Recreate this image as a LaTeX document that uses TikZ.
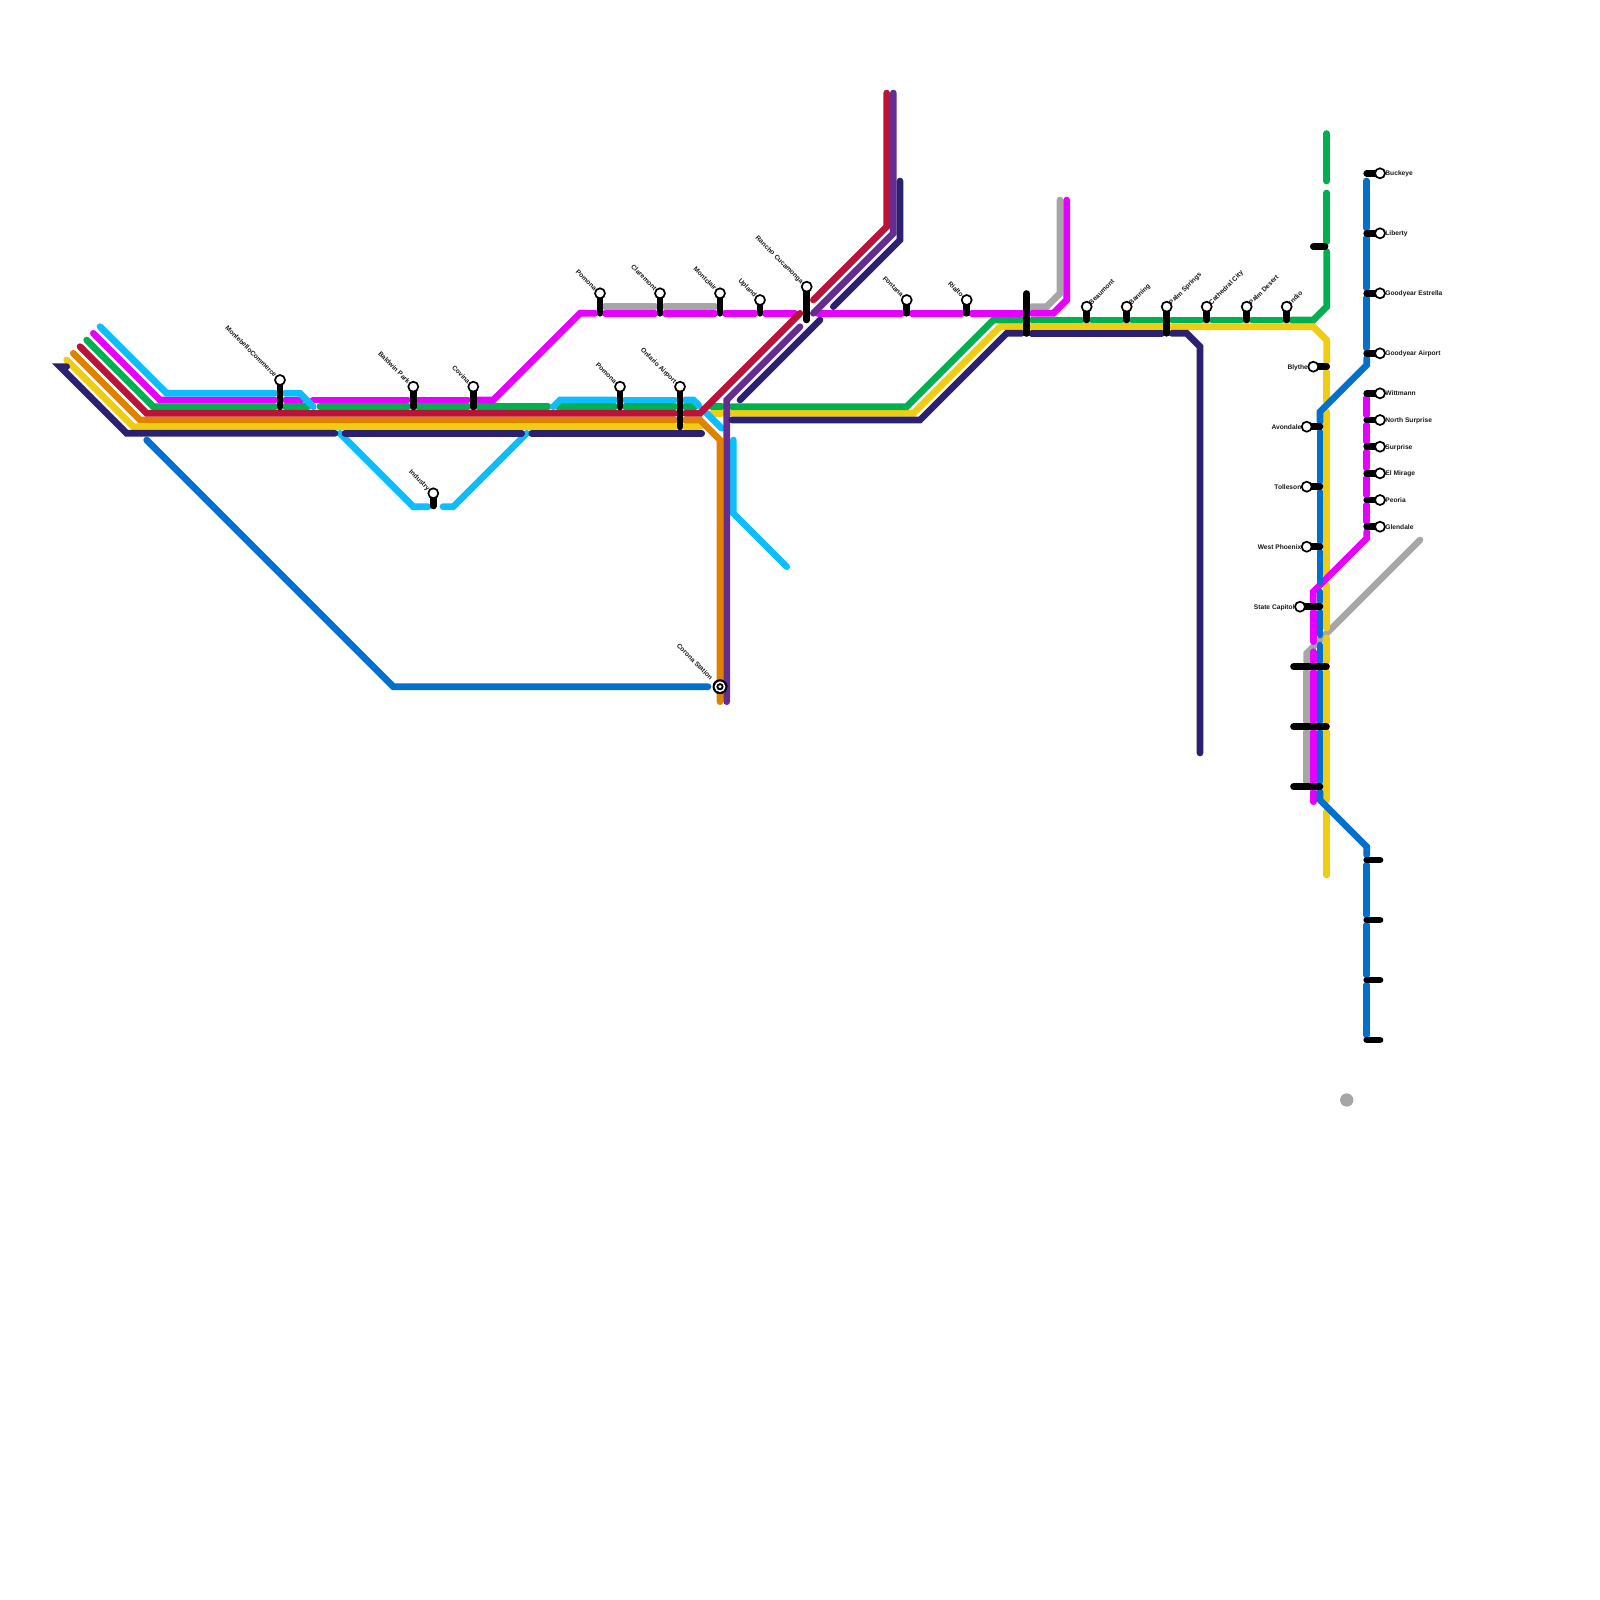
\documentclass[tikz,border=0pt]{standalone}
\usepackage{fontspec}
\setmainfont{Liberation Sans}
\definecolor{cCyan}{HTML}{0ABEFF}
\definecolor{cMag}{HTML}{E600FF}
\definecolor{cGreen}{HTML}{00B050}
\definecolor{cRed}{HTML}{BB1238}
\definecolor{cOrange}{HTML}{DE8200}
\definecolor{cYellow}{HTML}{F0CD10}
\definecolor{cNavy}{HTML}{2C2070}
\definecolor{cBlue}{HTML}{0070CC}
\definecolor{cPurple}{HTML}{662D91}
\definecolor{cGray}{HTML}{A6A6A6}
\tikzset{
  route/.style={line width=3.33pt,line cap=round,line join=miter,miter limit=4},
  cyanline/.style={route,cCyan}, magline/.style={route,cMag}, greenline/.style={route,cGreen},
  redline/.style={route,cRed}, orangeline/.style={route,cOrange}, yellowline/.style={route,cYellow},
  navyline/.style={route,cNavy}, blueline/.style={route,cBlue}, purpleline/.style={route,cPurple},
  grayline/.style={route,cGray},
  stationbar/.style={line width=3.33pt,line cap=round,black},
  stationdot/.style={circle,draw=black,fill=white,line width=0.85pt,minimum size=2.5pt*2,inner sep=0pt},
  stationlabel/.style={font=\bfseries\fontsize{3.33pt}{4pt}\selectfont,inner sep=0pt,text height=2.4pt,text depth=0pt,text=black!90}
}
% vertical station: name, x, top y, bottom y
\newcommand{\vstn}[4]{\draw[stationbar] (#2,#3) -- (#2,#4); \node[stationdot] (#1) at (#2,#3) {};}
% horizontal station: name, circle x, y, other end x
\newcommand{\hstn}[4]{\draw[stationbar] (#2,#3) -- (#4,#3); \node[stationdot] (#1) at (#2,#3) {};}
\newcommand{\ulabel}[4]{\node[stationlabel,anchor=east,rotate=-45] (#1) at (#2-4,#3-4) {#4};}
\newcommand{\urlabel}[4]{\node[stationlabel,anchor=west,rotate=45] (#1) at (#2+3,#3-3) {#4};}
\newcommand{\rlabel}[4]{\node[stationlabel,anchor=west] (#1) at (#2+5,#3) {#4};}
\newcommand{\llabel}[4]{\node[stationlabel,anchor=east] (#1) at (#2-5,#3) {#4};}
\begin{document}
\begin{tikzpicture}[x=0.5pt,y=-0.5pt]
\useasboundingbox (0,0) rectangle (1600,1600);
\fill[white] (0,0) rectangle (1600,1600);

% grey
\draw[grayline] (605,306.7) -- (655,306.7);
\draw[grayline] (665,306.7) -- (715,306.7);
\draw[grayline] (1031.7,306.7) -- (1046.7,306.7) -- (1060,293.3) -- (1060,200);
\draw[grayline] (1420,540) -- (1306.7,653.3) -- (1306.7,661.7);
\draw[grayline] (1306.7,671.7) -- (1306.7,721.7);
\draw[grayline] (1306.7,731.7) -- (1306.7,781.7);
\fill[cGray] (1346.7,1100) circle[radius=6.67];

% yellow
\draw[yellowline] (66.7,360) -- (133.3,426.7) -- (675,426.7);
\draw[yellowline] (685,426.7) -- (700,426.7);
\draw[yellowline] (711.7,413.3) -- (721.7,413.3);
\draw[yellowline] (731.7,413.3) -- (913.3,413.3) -- (1000,326.7) -- (1021.7,326.7);
\draw[yellowline] (1031.7,326.7) -- (1161.7,326.7);
\draw[yellowline] (1171.7,326.7) -- (1313.3,326.7) -- (1326.7,340) -- (1326.7,361.7);
\draw[yellowline] (1326.7,371.7) -- (1326.7,401.7);
\draw[yellowline] (1326.7,411.7) -- (1326.7,575);
\draw[yellowline] (1326.7,585) -- (1326.7,628);
\draw[yellowline] (1326.7,638) -- (1326.7,661.7);
\draw[yellowline] (1326.7,671.7) -- (1326.7,721.7);
\draw[yellowline] (1326.7,731.7) -- (1326.7,800);
\draw[yellowline] (1326.7,811.7) -- (1326.7,875);

% green
\draw[greenline] (86.7,340) -- (153.3,406.7) -- (275,406.7);
\draw[greenline] (285,406.7) -- (308,406.7);
\draw[greenline] (320,406.7) -- (408,406.7);
\draw[greenline] (418,406.7) -- (468,406.7);
\draw[greenline] (478,406.7) -- (548,406.7);
\draw[greenline] (558,406.7) -- (615,406.7);
\draw[greenline] (625,406.7) -- (675,406.7);
\draw[greenline] (685,406.7) -- (695,406.7);
\draw[greenline] (711.7,406.7) -- (721.7,406.7);
\draw[greenline] (731.7,406.7) -- (906.7,406.7) -- (993.3,320) -- (1021.7,320);
\draw[greenline] (1031.7,320) -- (1081.7,320);
\draw[greenline] (1091.7,320) -- (1121.7,320);
\draw[greenline] (1131.7,320) -- (1161.7,320);
\draw[greenline] (1171.7,320) -- (1201.7,320);
\draw[greenline] (1211.7,320) -- (1241.7,320);
\draw[greenline] (1251.7,320) -- (1281.7,320);
\draw[greenline] (1291.7,320) -- (1313.3,320) -- (1326.7,306.7) -- (1326.7,251.7);
\draw[greenline] (1326.7,241.7) -- (1326.7,193);
\draw[greenline] (1326.7,181) -- (1326.7,133.5);

% magenta
\draw[magline] (93.3,333.3) -- (160,400) -- (275,400);
\draw[magline] (285,400) -- (302,400);
\draw[magline] (313,400) -- (408,400);
\draw[magline] (418,400) -- (468,400);
\draw[magline] (478,400) -- (493.3,400) -- (580,313.3) -- (595,313.3);
\draw[magline] (605,313.3) -- (655,313.3);
\draw[magline] (665,313.3) -- (715,313.3);
\draw[magline] (725,313.3) -- (755,313.3);
\draw[magline] (765,313.3) -- (795,313.3);
\draw[magline] (818,313.3) -- (901.7,313.3);
\draw[magline] (911.7,313.3) -- (961.7,313.3);
\draw[magline] (971.7,313.3) -- (1021.7,313.3);
\draw[magline] (1031.7,313.3) -- (1053.3,313.3) -- (1066.7,300) -- (1066.7,200);
\draw[magline] (1366.7,398) -- (1366.7,415);
\draw[magline] (1366.7,425) -- (1366.7,441.7);
\draw[magline] (1366.7,451.7) -- (1366.7,468);
\draw[magline] (1366.7,478) -- (1366.7,495);
\draw[magline] (1366.7,505) -- (1366.7,521.7);
\draw[magline] (1366.7,531.7) -- (1366.7,538.3) -- (1313.3,591.7) -- (1313.3,601.7);
\draw[magline] (1313.3,611.7) -- (1313.3,641.7);
\draw[magline] (1313.3,651.7) -- (1313.3,661.7);
\draw[magline] (1313.3,671.7) -- (1313.3,721.7);
\draw[magline] (1313.3,731.7) -- (1313.3,781.7);
\draw[magline] (1313.3,791.7) -- (1313.3,801.7);

% cyan
\draw[cyanline] (100,326.7) -- (166.7,393.3) -- (275,393.3);
\draw[cyanline] (285,393.3) -- (300,393.3) -- (313.3,406.7);
\draw[cyanline] (340,433.3) -- (413.3,506.7) -- (428,506.7);
\draw[cyanline] (443,506.7) -- (453.3,506.7) -- (526.7,433.3);
\draw[cyanline] (553.3,406.7) -- (560,400) -- (615,400);
\draw[cyanline] (625,400) -- (675,400);
\draw[cyanline] (685,400) -- (693.3,400) -- (699,405.7);
\draw[cyanline] (706.7,413.3) -- (721.7,428.3);
\draw[cyanline] (733.3,440) -- (733.3,513.3) -- (786.7,566.7);

% orange
\draw[orangeline] (73.3,353.3) -- (140,420) -- (675,420);
\draw[orangeline] (685,420) -- (700,420) -- (720,440) -- (720,701.7);

% crimson
\draw[redline] (80,346.7) -- (146.7,413.3) -- (675,413.3);
\draw[redline] (685,413.3) -- (700,413.3) -- (800,313.3);
\draw[redline] (813.3,300) -- (886.7,226.7) -- (886.7,93);

% purple
\draw[purpleline] (893.3,93) -- (893.3,233.3) -- (813.3,313.3);
\draw[purpleline] (800,326.7) -- (726.7,400) -- (726.7,701.7);

% navy
\draw[navyline] (66.7,366.7) -- (60,366.7) -- (126.7,433.3) -- (335,433.3);
\draw[navyline] (345,433.3) -- (521.7,433.3);
\draw[navyline] (531.7,433.3) -- (701.7,433.3);
\draw[navyline] (900,181) -- (900,240) -- (833.3,306.7);
\draw[navyline] (820,320) -- (740,400);
\draw[navyline] (731.7,420) -- (920,420) -- (1006.7,333.3) -- (1021.7,333.3);
\draw[navyline] (1031.7,333.3) -- (1161.7,333.3);
\draw[navyline] (1171.7,333.3) -- (1186.7,333.3) -- (1200,346.7) -- (1200,753);

% blue
\draw[blueline] (146.7,440) -- (393.3,686.7) -- (708,686.7);
\draw[blueline] (1366.7,181) -- (1366.7,228);
\draw[blueline] (1366.7,238) -- (1366.7,288);
\draw[blueline] (1366.7,298) -- (1366.7,348);
\draw[blueline] (1366.7,358) -- (1366.7,365) -- (1320,411.7) -- (1320,421.7);
\draw[blueline] (1320,431.7) -- (1320,481.7);
\draw[blueline] (1320,491.7) -- (1320,541.7);
\draw[blueline] (1320,551.7) -- (1320,581.7);
\draw[blueline] (1320,591.7) -- (1320,601.7);
\draw[blueline] (1320,611.7) -- (1320,635);
\draw[blueline] (1320,645) -- (1320,661.7);
\draw[blueline] (1320,671.7) -- (1320,721.7);
\draw[blueline] (1320,731.7) -- (1320,781.7);
\draw[blueline] (1320,791.7) -- (1320,800) -- (1366.7,846.7) -- (1366.7,855);
\draw[blueline] (1366.7,865) -- (1366.7,915);
\draw[blueline] (1366.7,925) -- (1366.7,975);
\draw[blueline] (1366.7,985) -- (1366.7,1035);

% unnamed bars
\draw[stationbar] (1026.7,293.5) -- (1026.7,333.5);
\draw[stationbar] (1313.3,246.7) -- (1325,246.7);
\draw[stationbar] (1293.5,666.7) -- (1326.5,666.7);
\draw[stationbar] (1293.5,726.7) -- (1326.5,726.7);
\draw[stationbar] (1293.5,786.7) -- (1320,786.7);
\draw[stationbar] (1366.7,860) -- (1380,860);
\draw[stationbar] (1366.7,920) -- (1380,920);
\draw[stationbar] (1366.7,980) -- (1380,980);
\draw[stationbar] (1366.7,1040) -- (1380,1040);

% vertical stations
\vstn{montebello}{280}{380}{407}
\vstn{baldwin}{413.3}{386.7}{407}
\vstn{industry}{433.3}{493.3}{506}
\vstn{covina}{473.3}{386.7}{407}
\vstn{pomonaA}{600}{293.3}{313.3}
\vstn{claremont}{660}{293.3}{313.3}
\vstn{montclair}{720}{293.3}{313.3}
\vstn{upland}{760}{300}{313.3}
\vstn{rancho}{806.7}{286.7}{320}
\vstn{pomonaB}{620}{386.7}{407}
\vstn{ontario}{680}{386.7}{427}
\vstn{fontana}{906.7}{300}{313.3}
\vstn{rialto}{966.7}{300}{313.3}
\vstn{beaumont}{1086.7}{306.7}{320}
\vstn{banning}{1126.7}{306.7}{320}
\vstn{palmsprings}{1166.7}{306.7}{333.3}
\vstn{cathedral}{1206.7}{306.7}{320}
\vstn{palmdesert}{1246.7}{306.7}{320}
\vstn{indio}{1286.7}{306.7}{320}

% right-hand stations
\hstn{buckeye}{1380}{173.3}{1366.7}
\hstn{liberty}{1380}{233.3}{1366.7}
\hstn{estrella}{1380}{293.3}{1366.7}
\hstn{airport}{1380}{353.3}{1366.7}
\hstn{wittmann}{1380}{393.3}{1366.7}
\hstn{nsurprise}{1380}{420}{1366.7}
\hstn{surprise}{1380}{446.7}{1366.7}
\hstn{elmirage}{1380}{473.3}{1366.7}
\hstn{peoria}{1380}{500}{1366.7}
\hstn{glendale}{1380}{526.7}{1366.7}

% left-hand stations
\hstn{blythe}{1313.3}{366.7}{1326.7}
\hstn{avondale}{1306.7}{426.7}{1320}
\hstn{tolleson}{1306.7}{486.7}{1320}
\hstn{westphoenix}{1306.7}{546.7}{1320}
\hstn{statecapitol}{1300}{606.7}{1320}

% Corona station
\fill[black] (720,686.7) circle[radius=7.5];
\fill[white] (720,686.7) circle[radius=5.4];
\fill[black] (720,686.7) circle[radius=3.6];
\node[circle,fill=white,minimum size=1.7pt,inner sep=0pt] (corona) at (720,686.7) {};

% labels
\ulabel{lMontebello}{280}{380}{MontebelloCommerce}
\ulabel{lBaldwin}{413.3}{386.7}{Baldwin Park}
\ulabel{lIndustry}{433.3}{493.3}{Industry}
\ulabel{lCovina}{473.3}{386.7}{Covina}
\ulabel{lPomonaA}{600}{293.3}{Pomona}
\ulabel{lClaremont}{660}{293.3}{Claremont}
\ulabel{lMontclair}{720}{293.3}{Montclair}
\ulabel{lUpland}{760}{300}{Upland}
\ulabel{lRancho}{806.7}{286.7}{Rancho Cucamonga}
\ulabel{lPomonaB}{620}{386.7}{Pomona}
\ulabel{lOntario}{680}{386.7}{Ontario Airport}
\ulabel{lFontana}{906.7}{300}{Fontana}
\ulabel{lRialto}{966.7}{300}{Rialto}
\ulabel{lCorona}{716}{682.7}{Corona Station}
\urlabel{lBeaumont}{1086.7}{306.7}{Beaumont}
\urlabel{lBanning}{1126.7}{306.7}{Banning}
\urlabel{lPalmSprings}{1166.7}{306.7}{Palm Springs}
\urlabel{lCathedral}{1206.7}{306.7}{Cathedral City}
\urlabel{lPalmDesert}{1246.7}{306.7}{Palm Desert}
\urlabel{lIndio}{1286.7}{306.7}{Indio}
\rlabel{lBuckeye}{1380}{173.3}{Buckeye}
\rlabel{lLiberty}{1380}{233.3}{Liberty}
\rlabel{lEstrella}{1380}{293.3}{Goodyear Estrella}
\rlabel{lAirport}{1380}{353.3}{Goodyear Airport}
\rlabel{lWittmann}{1380}{393.3}{Wittmann}
\rlabel{lNSurprise}{1380}{420}{North Surprise}
\rlabel{lSurprise}{1380}{446.7}{Surprise}
\rlabel{lElMirage}{1380}{473.3}{El Mirage}
\rlabel{lPeoria}{1380}{500}{Peoria}
\rlabel{lGlendale}{1380}{526.7}{Glendale}
\llabel{lBlythe}{1313.3}{366.7}{Blythe}
\llabel{lAvondale}{1306.7}{426.7}{Avondale}
\llabel{lTolleson}{1306.7}{486.7}{Tolleson}
\llabel{lWestPhoenix}{1306.7}{546.7}{West Phoenix}
\llabel{lStateCapitol}{1300}{606.7}{State Capitol}
\end{tikzpicture}
\end{document}
